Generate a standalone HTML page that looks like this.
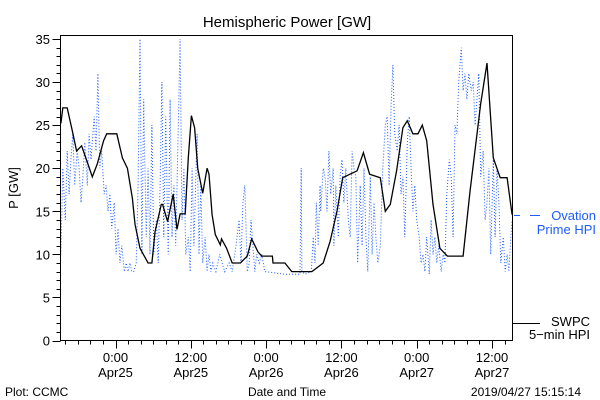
<!DOCTYPE html>
<html><head><meta charset="utf-8"><style>
html,body{margin:0;padding:0;background:#fff;}
svg{display:block;font-family:"Liberation Sans",sans-serif;}
</style></head><body>
<svg id="chart" width="600" height="400" viewBox="0 0 600 400">
<rect width="600" height="400" fill="#fff"/>
<text x="287" y="27" font-size="15" text-anchor="middle">Hemispheric Power [GW]</text>
<text transform="translate(18,188) rotate(-90)" font-size="13" text-anchor="middle">P [GW]</text>
<g id="yaxis"></g>
<g id="xaxis"></g>
<g id="series"></g>
<rect x="60.5" y="35.5" width="452" height="305" fill="none" stroke="#000" stroke-width="1"/>
<text x="5" y="396" font-size="12">Plot: CCMC</text>
<text x="287" y="396" font-size="12" text-anchor="middle">Date and Time</text>
<text x="581" y="396" font-size="12" text-anchor="end">2019/04/27 15:15:14</text>
<g>
<line x1="514" y1="215.5" x2="520" y2="215.5" stroke="#1f5cff" stroke-width="1"/>
<line x1="530" y1="215.5" x2="540" y2="215.5" stroke="#1f5cff" stroke-width="1"/>
<text x="596" y="220" font-size="13" fill="#1f5cff" text-anchor="end">Ovation</text>
<text x="596" y="234" font-size="13" fill="#1f5cff" text-anchor="end">Prime HPI</text>
</g>
<g>
<line x1="513" y1="323.5" x2="540" y2="323.5" stroke="#000" stroke-width="1"/>
<text x="590" y="326" font-size="13" text-anchor="end">SWPC</text>
<text x="590" y="339" font-size="13" text-anchor="end">5−min HPI</text>
</g>
</svg>
<script>
// Hours relative to 2019-04-25 00:00
const swpcHours = [-8.7,-8.4,-7.7,-6.9,-6.2,-5.4,-4.4,-3.7,-2.9,-1.9,-1.4,0.2,1.1,1.9,2.7,3.1,3.9,5.2,5.8,6.3,7.3,7.5,8.3,9.2,9.8,10.3,11.1,11.6,12.1,12.6,13.1,13.9,14.6,14.9,15.4,15.9,16.7,16.9,17.7,18.6,19.9,21.0,21.7,22.7,23.3,25.0,25.1,27.0,28.1,31.3,33.1,34.2,35.3,36.2,38.5,39.5,40.5,42.2,43.0,43.8,44.8,45.8,46.5,47.4,48.2,48.9,49.6,50.6,51.7,52.9,55.4,56.5,58.2,59.2,60.2,61.3,62.4,63.2];
const swpcValues = [25.2,27,27,24.4,22,22.6,20.5,19,20.5,23.2,24,24,21.2,20,16.5,13.5,10.7,9,9,12.6,15.8,15.8,13.8,17,12.9,14.7,14.7,21.2,26.1,24.7,20,17.1,20,19.3,14.6,12.3,11.1,11.8,10.7,9,9,9.8,11.8,10.3,9.8,9.8,9,9,8,8,9,11.5,15,18.9,19.7,21.8,19.3,18.9,15,15.8,19.7,24.7,25.5,24,24,25,23.2,15.8,10.7,9.8,9.8,17.3,27.5,32.2,21.2,18.9,18.9,14.6];
const ovationHours = [-8.7,-8.4,-8.0,-7.7,-7.4,-7.1,-6.8,-6.5,-6.1,-5.8,-5.5,-5.2,-4.9,-4.5,-4.2,-3.9,-3.4,-3.1,-2.8,-2.5,-2.2,-1.8,-1.5,-1.2,-0.9,-0.6,-0.2,0.1,0.4,0.7,1.0,1.4,1.7,2.0,2.3,2.6,2.9,3.3,3.6,3.9,4.2,4.5,4.9,5.2,5.5,5.8,6.1,6.5,6.8,7.1,7.4,7.7,8.0,8.4,8.7,9.0,9.3,9.6,10.0,10.3,10.6,10.9,11.2,11.6,11.9,12.2,12.5,13.0,13.3,13.6,13.9,14.3,14.6,14.9,15.2,15.5,16.0,16.6,17.4,18.1,18.6,19.2,19.7,20.0,20.3,20.6,21.0,21.3,21.6,21.9,22.2,22.5,22.9,23.3,23.8,27.0,29.1,29.4,29.6,29.7,30.2,31.2,31.5,31.8,32.0,32.3,32.6,32.7,33.1,33.4,33.7,34.0,34.3,34.7,34.8,35.1,35.5,35.8,36.1,36.4,36.7,37.1,37.4,37.7,38.0,38.3,38.6,39.0,39.3,39.6,39.9,40.2,40.6,40.9,41.2,41.5,41.8,42.2,42.6,43.0,43.3,43.6,43.9,44.2,44.5,44.9,45.2,45.5,45.8,46.1,46.5,46.8,47.1,47.4,47.7,48.0,48.4,48.7,49.0,49.3,49.6,50.0,50.3,50.6,50.9,51.2,51.5,51.9,52.2,52.5,52.8,53.2,53.5,53.8,54.1,54.4,54.7,55.1,55.4,55.7,56.0,56.3,56.7,57.0,57.3,57.6,57.9,58.2,58.6,58.9,59.2,59.5,59.8,60.2,60.5,60.8,61.1,61.4,61.8,62.1,62.4,62.7,63.0,63.2];
const ovationValues = [10,20,14,22,17,21,24,18,22,20,16,19,23,18,24,21,26,22,31,20,22,17,18,15,17,13,16,10,13,9,11,8,9,8,9,8,8,9,18,35,10,28,12,20,10,25,10,14,9,18,30,12,26,10,28,12,18,11,25,35,14,20,10,12,8,20,11,24,10,18,9,12,8,10,8,9,8,10,8,9,8,11,14,9,16,18,8,9,14,11,8,10,9,10,8,7.7,7.7,7.7,20,8,7.7,8,12,9,16,11,18,15,20,19,15,22,17,20,11,18,12,19,21,16,20,14,12,22,20,19,9,18,11,20,12,8,19,10,16,12,9,11,20,25,26,18,27,32,24,22,25,17,19,12,23,26,20,15,18,14,12,9,10,8,12,7.7,14,10,12,9,11,8,10,9,17,21,19,12,25,24,30,34,29,31,28,31,29,30,25,28,31,19,22,14,16,20,10,21,12,20,16,9,12,8,10,8,12,14];
const yTickValues = [0,5,10,15,20,25,30,35];
const xTickHours = [0,12,24,36,48,60];
const xTickTimes = ["0:00","12:00","0:00","12:00","0:00","12:00"];
const xTickDates = ["Apr25","Apr25","Apr26","Apr26","Apr27","Apr27"];

const NS = "http://www.w3.org/2000/svg";
const X0 = 115.5, PXH = 6.275, Y0 = 340.5, PXV = 8.614;
function xScale(h){ return X0 + h*PXH; }
function yScale(v){ return Y0 - v*PXV; }
function mk(tag, attrs, parent){ const e=document.createElementNS(NS,tag); for(const k in attrs) e.setAttribute(k,attrs[k]); parent.appendChild(e); return e; }

const yg = document.getElementById('yaxis');
for(let v=0; v<=35; v++){
  const y = Math.round(yScale(v))+0.5;
  const major = v%5===0;
  const t = mk('line',{x1:60.5-(major?8:4),x2:60.5,y1:y,y2:y,stroke:'#000','stroke-width':1},yg);
  
  
}
yTickValues.forEach(v=>{
  const t = mk('text',{x:50,y:yScale(v)+5,'font-size':13,'text-anchor':'end'},yg);
  t.textContent = v;
  
  
});

const xg = document.getElementById('xaxis');
for(let h=-8; h<=63; h+=2){
  const x = Math.round(xScale(h))+0.5;
  const major = h%12===0;
  const t = mk('line',{x1:x,x2:x,y1:340.5,y2:340.5+(major?8:4),stroke:'#000','stroke-width':1},xg);
  
  
}
xTickHours.forEach((h,i)=>{
  const a = mk('text',{x:xScale(h),y:362,'font-size':13,'text-anchor':'middle'},xg);
  a.textContent = xTickTimes[i];
  
  
  const b = mk('text',{x:xScale(h),y:377,'font-size':13,'text-anchor':'middle'},xg);
  b.textContent = xTickDates[i];
  
  
});

const sg = document.getElementById('series');
const op = ovationHours.map((h,i)=>xScale(h).toFixed(1)+','+yScale(ovationValues[i]).toFixed(1)).join(' ');
const ol = mk('polyline',{points:op,fill:'none',stroke:'#1f5cff','stroke-width':1,'stroke-dasharray':'1 2'},sg);


const sp = swpcHours.map((h,i)=>xScale(h).toFixed(1)+','+yScale(swpcValues[i]).toFixed(1)).join(' ');
const sl = mk('polyline',{points:sp,fill:'none',stroke:'#000','stroke-width':1.3},sg);


</script>
</body></html>
